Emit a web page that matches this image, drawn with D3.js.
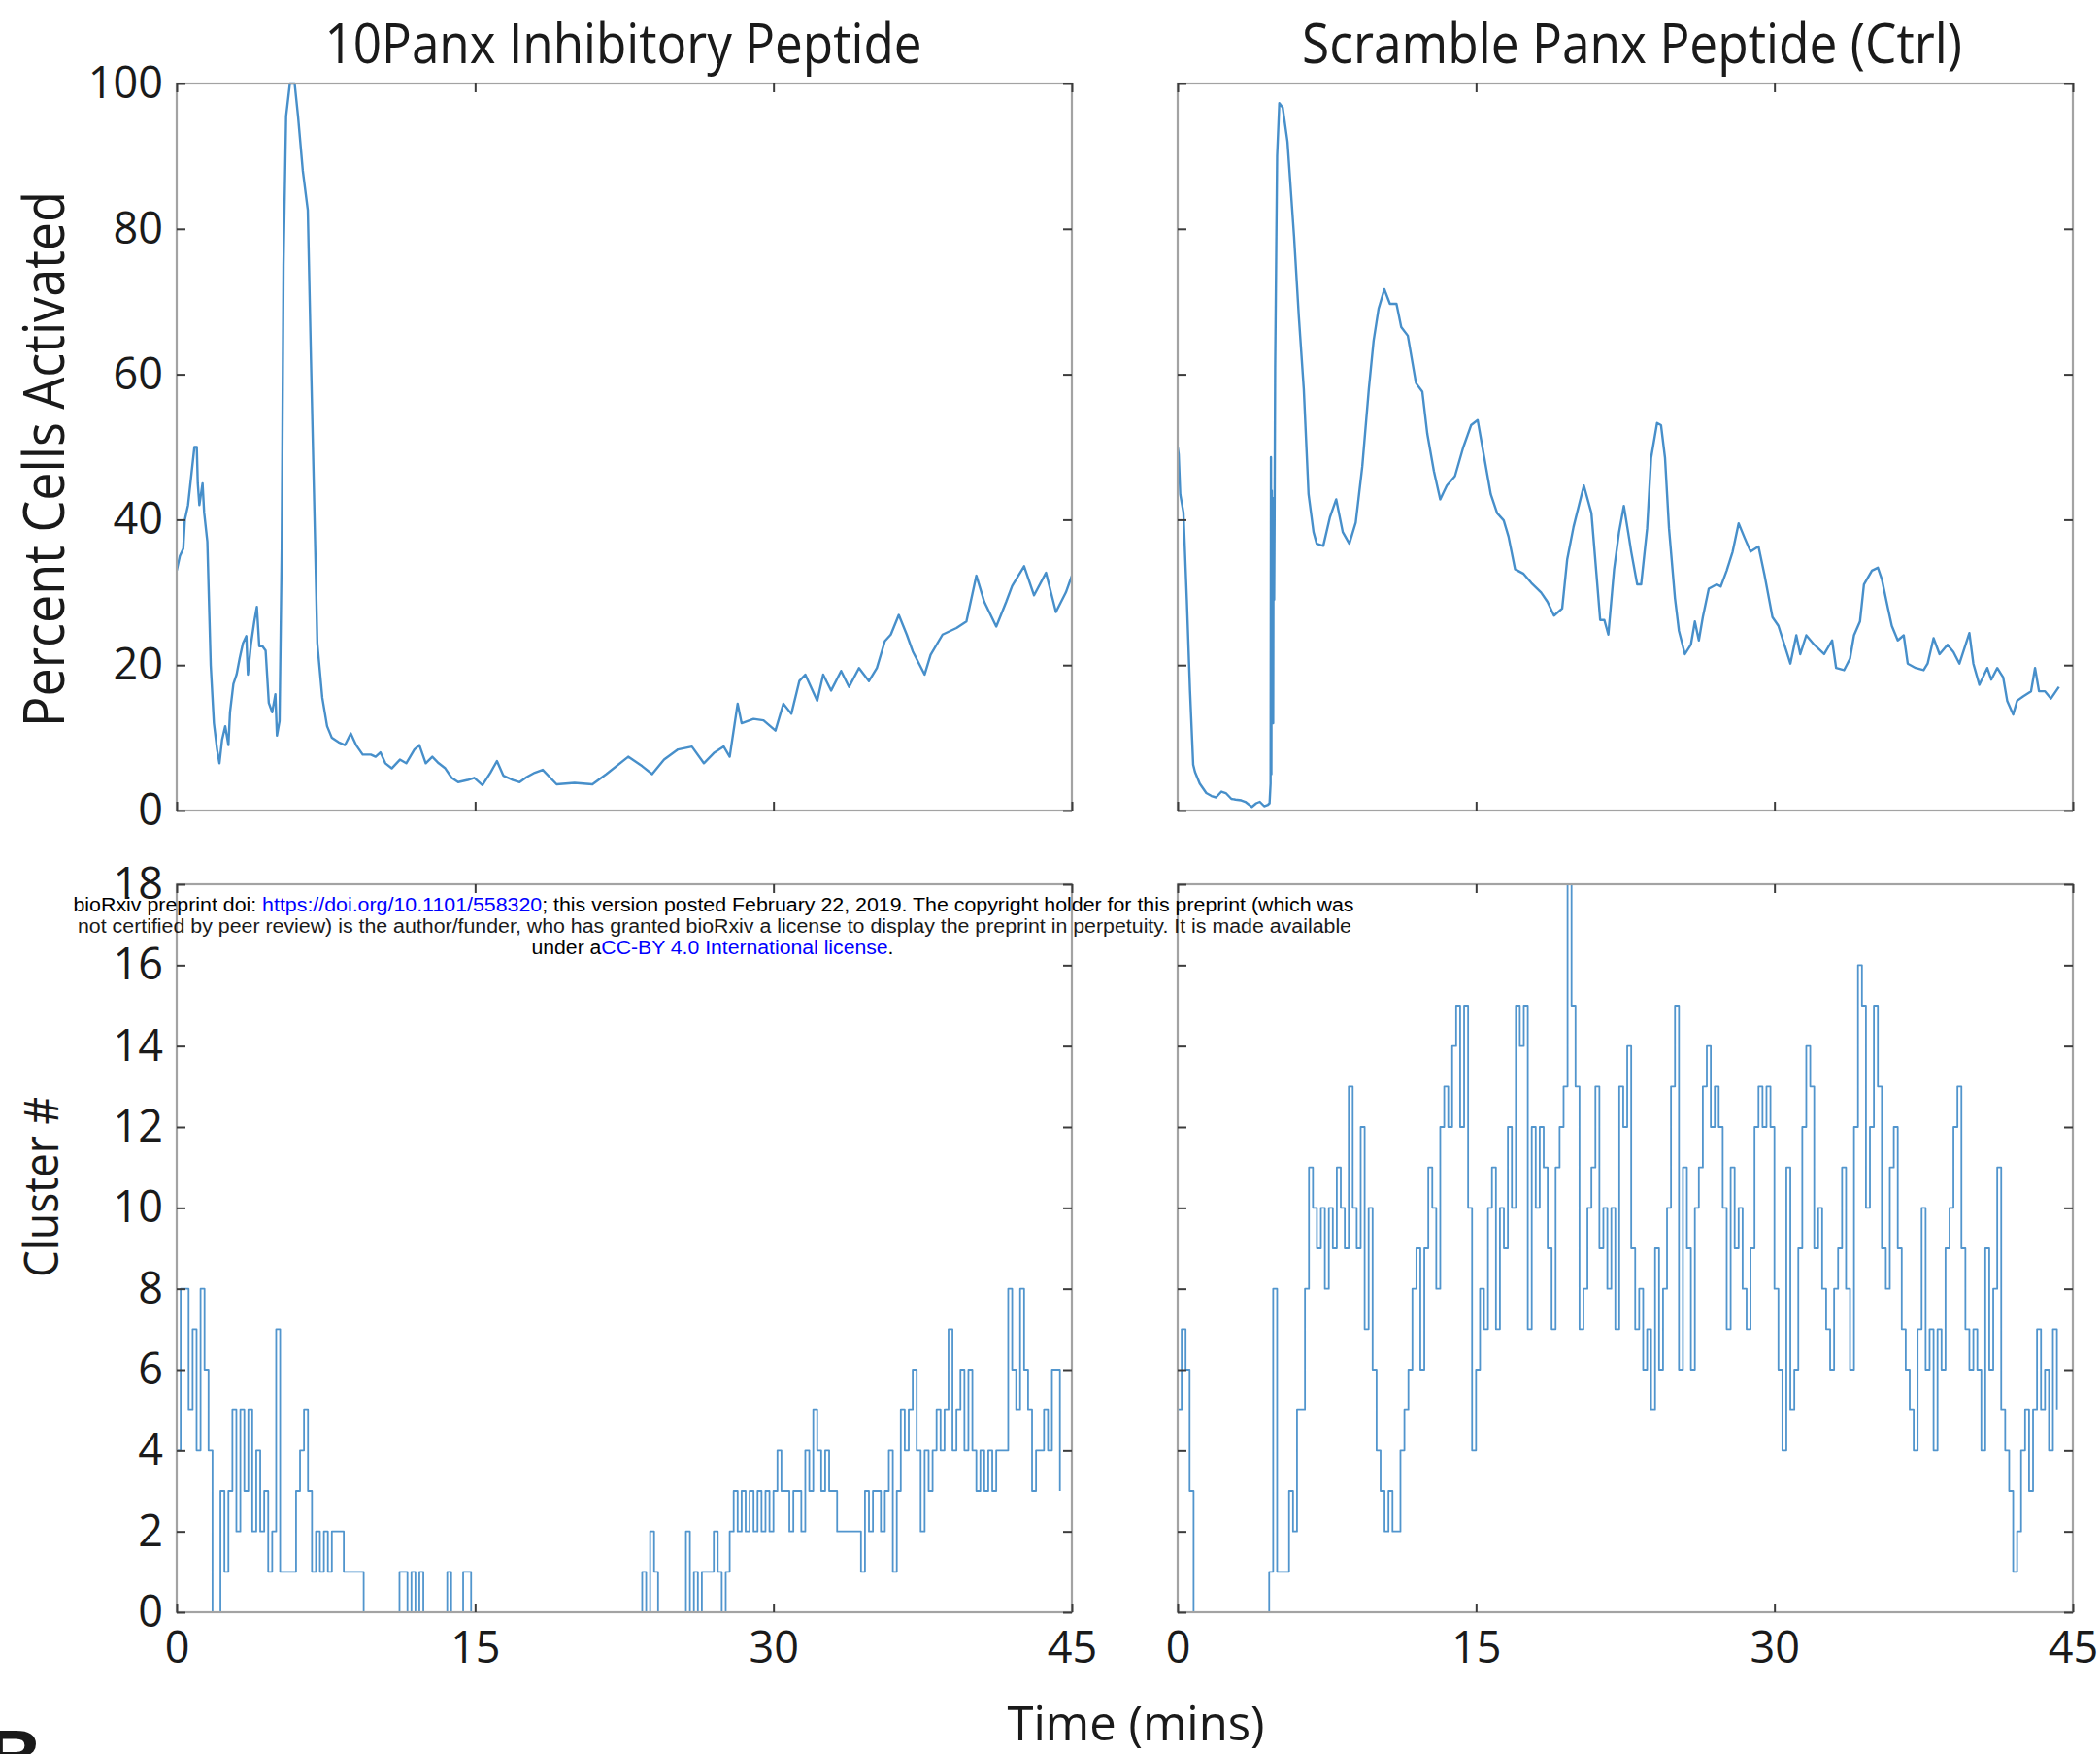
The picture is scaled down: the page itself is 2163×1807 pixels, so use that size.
<!DOCTYPE html>
<html>
<head>
<meta charset="utf-8">
<script src="https://cdn.jsdelivr.net/npm/d3@7"></script>
<style>
  body { margin: 0; background: #fff; }
  text { fill: #1a1a1a; }
  .sans { font-family: "Open Sans", sans-serif; }
  .arial { font-family: "Liberation Sans", Arial, sans-serif; }
</style>
</head>
<body>
<svg id="chart" width="2163" height="1807"></svg>
<script>
// percent of cells activated, [minutes, percent]
var pctLeft = [[0,33],[0.16,35],[0.33,36],[0.41,40],[0.57,42],[0.73,46],[0.89,50],[1.01,50],[1.06,45],[1.14,42],
  [1.30,45],[1.38,41],[1.54,37],[1.63,28],[1.71,20],[1.87,12],[2.03,8.4],[2.15,6.5],[2.28,9.7],[2.44,11.6],
  [2.60,9],[2.68,13.5],[2.85,17.4],[3.01,18.7],[3.17,21],[3.33,23],[3.50,24],[3.58,18.7],[3.74,23],[3.90,26],
  [4.03,28],[4.15,22.6],[4.31,22.6],[4.47,22],[4.63,14.8],[4.80,13.5],[4.96,16],[5.04,10.3],[5.17,12.3],[5.28,36],
  [5.37,75],[5.50,95.5],[5.69,100],[5.93,100],[6.10,95.5],[6.34,88],[6.59,82.6],[6.75,62],[6.91,42.6],[7.07,23],
  [7.32,15.5],[7.56,11.6],[7.80,10],[8.13,9.4],[8.46,9],[8.75,10.6],[9.02,9],[9.35,7.7],[9.76,7.7],[10.0,7.4],
  [10.24,8],[10.49,6.5],[10.81,5.8],[11.22,7],[11.54,6.5],[11.95,8.4],[12.2,9],[12.52,6.5],[12.85,7.4],[13.17,6.5],
  [13.5,5.8],[13.82,4.5],[14.15,3.9],[14.63,4.2],[14.96,4.5],[15.37,3.5],[15.77,5.2],[16.1,6.8],[16.42,4.8],[16.91,4.2],
  [17.24,3.9],[17.6,4.6],[18.0,5.2],[18.4,5.6],[19.1,3.6],[20.0,3.8],[20.9,3.6],[21.6,5],[22.7,7.4],[23.4,6.1],
  [23.9,5],[24.5,7],[25.2,8.4],[25.9,8.8],[26.5,6.5],[27.0,7.9],[27.5,8.8],[27.8,7.4],[28.2,14.7],[28.4,12],
  [29.0,12.6],[29.5,12.4],[30.1,11],[30.5,14.7],[30.9,13.3],[31.3,17.8],[31.6,18.7],[32.2,15.1],[32.5,18.7],[32.9,16.5],
  [33.4,19.2],[33.8,17],[34.3,19.6],[34.8,17.8],[35.2,19.6],[35.6,23.3],[35.9,24.2],[36.3,26.9],[36.7,24.2],[37.0,21.9],
  [37.6,18.7],[37.9,21.4],[38.5,24.2],[39.2,25.1],[39.7,26],[40.2,32.3],[40.6,28.7],[41.2,25.3],[41.7,28.7],[42.0,30.9],
  [42.6,33.6],[43.1,29.6],[43.7,32.7],[44.2,27.3],[44.7,30],[45.0,32.3]];

var pctRight = [[0,50],[0.05,49],[0.13,43.5],[0.29,41],[0.46,29],[0.62,16.5],[0.78,6.3],[0.87,5.3],[1.11,3.7],[1.44,2.4],
  [1.7,2.0],[1.93,1.8],[2.2,2.6],[2.42,2.4],[2.7,1.6],[2.91,1.5],[3.2,1.4],[3.40,1.2],[3.73,0.5],[3.95,1.0],
  [4.13,1.2],[4.35,0.6],[4.54,0.8],[4.62,1.0],[4.67,3.7],[4.69,48.6],[4.71,5],[4.73,44],[4.75,23],[4.77,43],
  [4.80,12],[4.82,42],[4.85,29],[4.87,40],[4.90,61],[5.0,90],[5.11,97.3],[5.28,96.7],[5.52,92],[5.85,79],
  [6.09,68],[6.34,58],[6.58,43.5],[6.83,38.3],[6.99,36.7],[7.32,36.4],[7.65,40.3],[7.97,42.8],[8.30,38.3],[8.63,36.7],
  [8.95,39.6],[9.28,47.3],[9.61,58],[9.85,64.6],[10.10,69],[10.39,71.7],[10.67,69.7],[11.0,69.7],[11.24,66.5],[11.57,65.3],
  [11.98,58.8],[12.30,57.6],[12.55,51.8],[12.88,46.7],[13.20,42.8],[13.53,44.7],[13.94,46],[14.35,49.9],[14.75,53],[15.08,53.7],
  [15.41,48.6],[15.74,43.5],[16.06,40.9],[16.39,39.9],[16.63,37.7],[16.96,33.2],[17.37,32.6],[17.78,31.3],[18.27,30],[18.59,28.7],
  [18.92,26.8],[19.33,27.8],[19.58,34.5],[19.90,39],[20.42,44.7],[20.80,40.9],[21.05,32.6],[21.24,26.2],[21.45,26.2],[21.65,24.2],
  [21.94,33.2],[22.19,38.3],[22.43,41.9],[22.68,37.7],[22.8,35.6],[23.1,31.1],[23.3,31.1],[23.6,38.8],[23.8,48.5],[24.1,53.3],
  [24.3,53],[24.5,48.5],[24.7,38.8],[25.0,29.2],[25.2,24.7],[25.5,21.5],[25.8,22.8],[26.0,26],[26.2,23.4],[26.4,26.6],
  [26.7,30.5],[27.1,31.1],[27.3,30.8],[27.6,33],[27.9,35.6],[28.2,39.5],[28.5,37.5],[28.8,35.6],[29.2,36.3],[29.5,32.4],
  [29.9,26.6],[30.2,25.4],[30.5,22.8],[30.8,20.2],[31.1,24.1],[31.3,21.5],[31.6,24.1],[32.0,22.8],[32.5,21.5],[32.9,23.4],
  [33.1,19.6],[33.5,19.3],[33.8,20.9],[34.0,24.1],[34.3,26],[34.5,31.1],[34.9,33],[35.2,33.4],[35.4,31.8],[35.7,27.9],
  [35.9,25.4],[36.2,23.4],[36.5,24.1],[36.7,20.2],[37.1,19.6],[37.5,19.3],[37.7,20.2],[38.0,23.7],[38.3,21.5],[38.7,22.8],
  [39.0,21.8],[39.3,20.2],[39.8,24.4],[40.0,20.2],[40.3,17.3],[40.7,19.6],[40.9,18],[41.2,19.6],[41.5,18.3],[41.7,15.1],
  [42.0,13.2],[42.2,15.1],[42.5,15.7],[42.9,16.4],[43.1,19.6],[43.3,16.4],[43.6,16.4],[43.9,15.4],[44.3,17]];

// cluster counts, one value every 0.2 min starting at t = 0
var clusterStep = 0.2;
var clusterLeft = [4,8,8,5,7,4,8,6,4,0, 0,3,1,3,5,2,5,3,5,2, 4,2,3,1,2,7,1,1,1,1,
  3,4,5,3,1,2,1,2,1,2, 2,2,1,1,1,1,1,0,0,0, 0,0,0,0,0,0,1,1,0,1, 0,1,0,0,0,0,0,0,1,0,
  0,0,1,1,0,
  0,0,0,0,0,0,0,0,0,0, 0,0,0,0,0,0,0,0,0,0, 0,0,0,0,0,0,0,0,0,0, 0,0,0,0,0,0,0,0,0,0, 0,0,
  1,0,2,1,0, 0,0,0,0,0,0,
  2,0,1,0,1,1,1,2,1,0,1,2,
  3,2,3,2,3,2,3,2,3,2,3,
  4,3,3,2,3,3,2, 4,3,5,4,3,4, 3,3, 2,2,2,2,2,2,1,
  3,2,3,3,2,3, 4,1, 3,5,4,5,6,4, 2,4,3,4, 5,4,5, 7,
  4,5,6,4,6,4, 3,4,3,4,3, 4,4,4, 8,6,5,8,6, 5,3,4,4,5,4, 6,6,3];

var clusterRight = [5,7,6,3,0, 0,0,0,0,0,0,0,0,0,0,0,0,0,0,0,0,0,0,
  1,8,1,1,1,3,2,5,5,8,11,10,9,10,8,10,9,11,10,9,13,10,9,12,7,10,6,
  4,3,2,3,2,2,4,5,6,8,9,6,9,11,10,8,12,13,12,14,15,12,15,10,4,
  6,8,7,10,11,7,10,9,12,10,15,14,15,7,12,10,12,11,9,7,11,12,13,18,15,13,7,8,10,11,13,9,10,8,10,7,
  13,12,14,9,7,8,6,7,5,9,6,8,10,13,15,6,11,9,6,10,11,13,14,12,13,12,10,7,11,9,10,8,7,9,12,13,12,13,12,
  8,6,4,11,5,6,9,12,14,13,9,10,8,7,6,8,9,11,8,6,12,16,15,10,12,15,13,9,8,11,12,9,7,6,5,4,7,10,6,7,4,
  7,6,9,10,12,13,9,7,6,7,6,4,9,6,8,11,5,4,3,1,2,4,5,3,5,7,5,6,4,7,5];

var timeTicks = [0, 15, 30, 45];
var pctTicks = [0, 20, 40, 60, 80, 100];
var clusterTicks = [0, 2, 4, 6, 8, 10, 12, 14, 16, 18];
var titles = ["10Panx Inhibitory Peptide", "Scramble Panx Peptide (Ctrl)"];

var svg = d3.select("#chart");
var lineColor = "#3383c4";

function toSeries(values) {
  return values.map(function(v, i) { return [i * clusterStep, v]; });
}

var panels = [
  {id: "tl", x0: 182, x1: 1104, y0: 86, y1: 835, yMax: 100, yTicks: pctTicks, data: pctLeft,
   yLabels: true, xLabels: false, step: false},
  {id: "tr", x0: 1213, x1: 2135, y0: 86, y1: 835, yMax: 100, yTicks: pctTicks, data: pctRight,
   yLabels: false, xLabels: false, step: false},
  {id: "bl", x0: 182, x1: 1104, y0: 911, y1: 1661, yMax: 18, yTicks: clusterTicks, data: toSeries(clusterLeft),
   yLabels: true, xLabels: true, step: true},
  {id: "br", x0: 1213, x1: 2135, y0: 911, y1: 1661, yMax: 18, yTicks: clusterTicks, data: toSeries(clusterRight),
   yLabels: false, xLabels: true, step: true}
];

panels.forEach(drawPanel);

function styleAxis(sel) {
  sel.select(".domain").remove();
  sel.selectAll(".tick line").attr("stroke", "#3c3c3c").attr("stroke-width", 2);
  sel.selectAll(".tick text").attr("class", "sans").style("font-size", "45px").attr("fill", "#1a1a1a");
}

function drawPanel(p) {
  var x = d3.scaleLinear().domain([0, 45]).range([p.x0, p.x1]);
  var y = d3.scaleLinear().domain([0, p.yMax]).range([p.y1, p.y0]);
  var g = svg.append("g").attr("class", "panel-" + p.id);

  g.append("clipPath").attr("id", "clip-" + p.id)
    .append("rect")
      .attr("x", p.x0).attr("y", p.y0 - 2)
      .attr("width", p.x1 - p.x0).attr("height", p.y1 - p.y0 + 2);

  var line = d3.line()
      .x(function(d) { return x(d[0]); })
      .y(function(d) { return y(d[1]); })
      .curve(p.step ? d3.curveStepAfter : d3.curveLinear);

  g.append("path")
      .datum(p.data)
      .attr("clip-path", "url(#clip-" + p.id + ")")
      .attr("fill", "none")
      .attr("stroke", lineColor)
      .attr("stroke-opacity", p.step ? 0.85 : 0.9)
      .attr("stroke-width", p.step ? 1.8 : 2.4)
      .attr("stroke-linejoin", "round")
      .attr("d", line);

  g.append("rect")
      .attr("x", p.x0).attr("y", p.y0)
      .attr("width", p.x1 - p.x0).attr("height", p.y1 - p.y0)
      .attr("fill", "none").attr("stroke", "#a3a3a3").attr("stroke-width", 2.2);

  g.append("g").attr("transform", "translate(" + p.x0 + ",0)")
      .call(d3.axisLeft(y).tickValues(p.yTicks).tickSize(-9).tickPadding(14)
        .tickFormat(p.yLabels ? d3.format("d") : ""))
      .call(styleAxis);
  g.append("g").attr("transform", "translate(" + p.x1 + ",0)")
      .call(d3.axisRight(y).tickValues(p.yTicks).tickSize(-9).tickFormat(""))
      .call(styleAxis);
  g.append("g").attr("transform", "translate(0," + p.y1 + ")")
      .call(d3.axisBottom(x).tickValues(timeTicks).tickSize(-9).tickPadding(20)
        .tickFormat(p.xLabels ? d3.format("d") : ""))
      .call(styleAxis);
  g.append("g").attr("transform", "translate(0," + p.y0 + ")")
      .call(d3.axisTop(x).tickValues(timeTicks).tickSize(-9).tickFormat(""))
      .call(styleAxis);
}

// titles
svg.append("text").attr("class", "sans").attr("x", 642).attr("y", 65).attr("text-anchor", "middle")
  .style("font-size", "56px").attr("textLength", 615).attr("lengthAdjust", "spacingAndGlyphs")
  .text(titles[0]);
svg.append("text").attr("class", "sans").attr("x", 1681).attr("y", 65).attr("text-anchor", "middle")
  .style("font-size", "56px").attr("textLength", 680).attr("lengthAdjust", "spacingAndGlyphs")
  .text(titles[1]);

// axis labels
svg.append("text").attr("class", "sans").attr("transform", "translate(66,473) rotate(-90)").attr("text-anchor", "middle")
  .style("font-size", "58px").attr("textLength", 552).attr("lengthAdjust", "spacingAndGlyphs")
  .text("Percent Cells Activated");
svg.append("text").attr("class", "sans").attr("transform", "translate(60,1223) rotate(-90)").attr("text-anchor", "middle")
  .style("font-size", "50px").attr("textLength", 186).attr("lengthAdjust", "spacingAndGlyphs")
  .text("Cluster #");
svg.append("text").attr("class", "sans").attr("x", 1170).attr("y", 1793).attr("text-anchor", "middle")
  .style("font-size", "49px")
  .text("Time (mins)");

// cut-off panel letter at the bottom edge
svg.append("text").attr("class", "arial").attr("x", -14).attr("y", 1838)
  .style("font-weight", "bold").style("font-size", "80px").attr("fill", "#000")
  .text("B");

// preprint watermark
var wm = svg.append("g");
var l1 = wm.append("text").attr("class", "arial").style("font-size", "19.5px")
  .attr("x", 735).attr("y", 939).attr("text-anchor", "middle")
  .attr("textLength", 1319).attr("lengthAdjust", "spacingAndGlyphs");
l1.append("tspan").attr("fill", "#000").text("bioRxiv preprint doi: ");
l1.append("tspan").attr("fill", "#0000ff").text("https://doi.org/10.1101/558320");
l1.append("tspan").attr("fill", "#000").text("; this version posted February 22, 2019. The copyright holder for this preprint (which was");
wm.append("text").attr("class", "arial").style("font-size", "19.5px")
  .attr("x", 736).attr("y", 961).attr("text-anchor", "middle").attr("fill", "#000")
  .attr("textLength", 1312).attr("lengthAdjust", "spacingAndGlyphs")
  .text("not certified by peer review) is the author/funder, who has granted bioRxiv a license to display the preprint in perpetuity. It is made available");
var l3 = wm.append("text").attr("class", "arial").style("font-size", "19.5px")
  .attr("x", 734).attr("y", 983).attr("text-anchor", "middle")
  .attr("textLength", 373).attr("lengthAdjust", "spacingAndGlyphs");
l3.append("tspan").attr("fill", "#000").text("under a");
l3.append("tspan").attr("fill", "#0000ff").text("CC-BY 4.0 International license");
l3.append("tspan").attr("fill", "#000").text(".");
</script>
</body>
</html>
